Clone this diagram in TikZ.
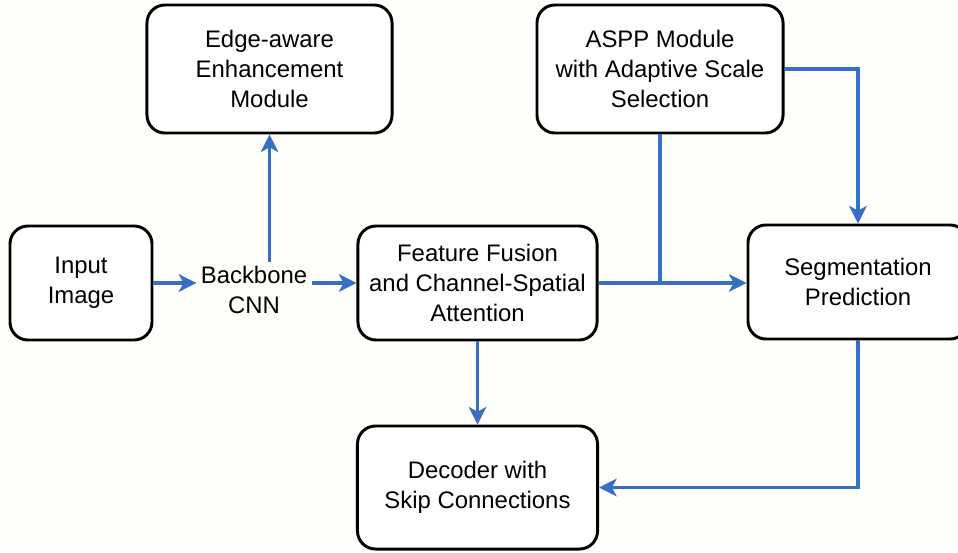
\documentclass[tikz,border=0pt]{standalone}
\usepackage{fontspec}
\setmainfont{Liberation Sans}
\usetikzlibrary{arrows.meta}

\definecolor{flowblue}{RGB}{54,112,198}
\definecolor{paper}{RGB}{254,254,251}

\begin{document}
\begin{tikzpicture}[x=0.025cm, y=-0.025cm,
    >={Stealth[length=4.4mm, width=4.4mm, inset=1.2mm]},
    box/.style={draw, line width=2.1pt, rounded corners=0.45cm, align=center,
      fill=white, inner sep=2pt, font=\fontsize{17}{21.3}\selectfont},
    plain/.style={align=center, inner sep=3pt, font=\fontsize{17}{21.3}\selectfont},
    flow/.style={->, draw=flowblue, line width=2.2pt},
    feed/.style={draw=flowblue, line width=2.2pt}]
  % page
  \fill[paper] (0,0) rectangle (958,552);
  \useasboundingbox (0,0) rectangle (958,552);
  % blocks
  \node[box, minimum width=3.55cm, minimum height=2.85cm] (inp) at (81,283) {Input\\Image};
  \node[plain] (bb) at (254,290) {Backbone\\CNN};
  \node[box, minimum width=6.125cm, minimum height=3.2cm] (edge) at (269.5,69) {Edge-aware\\Enhancement\\Module};
  \node[box, minimum width=5.975cm, minimum height=2.85cm] (fus) at (477.5,283) {Feature Fusion\\and Channel-Spatial\\Attention};
  \node[box, minimum width=6.15cm, minimum height=3.2cm] (aspp) at (660,69) {ASPP Module\\with Adaptive Scale\\Selection};
  \node[box, minimum width=5.5cm, minimum height=2.85cm] (seg) at (858,282) {Segmentation\\Prediction};
  \node[box, minimum width=6.0cm, minimum height=3.075cm] (dec) at (477.5,487.5) {Decoder with\\Skip Connections};
  % main path
  \draw[flow] (inp.east |- 0,283) -- (bb.west |- 0,283);
  \draw[flow] (bb.east |- 0,283) -- (fus.west |- 0,283);
  \draw[flow] (bb.north -| edge.south) -- (edge.south);
  \draw[flow] (fus.east |- 0,283) -- (seg.west |- 0,283);
  % aspp branch
  \draw[feed] (aspp.south) -- (aspp.south |- 0,283);
  \draw[flow] (aspp.east) -| (seg.north);
  % decoder
  \draw[flow] (fus.south) -- (dec.north);
  \draw[flow] (seg.south) |- (dec.east);
\end{tikzpicture}
\end{document}
